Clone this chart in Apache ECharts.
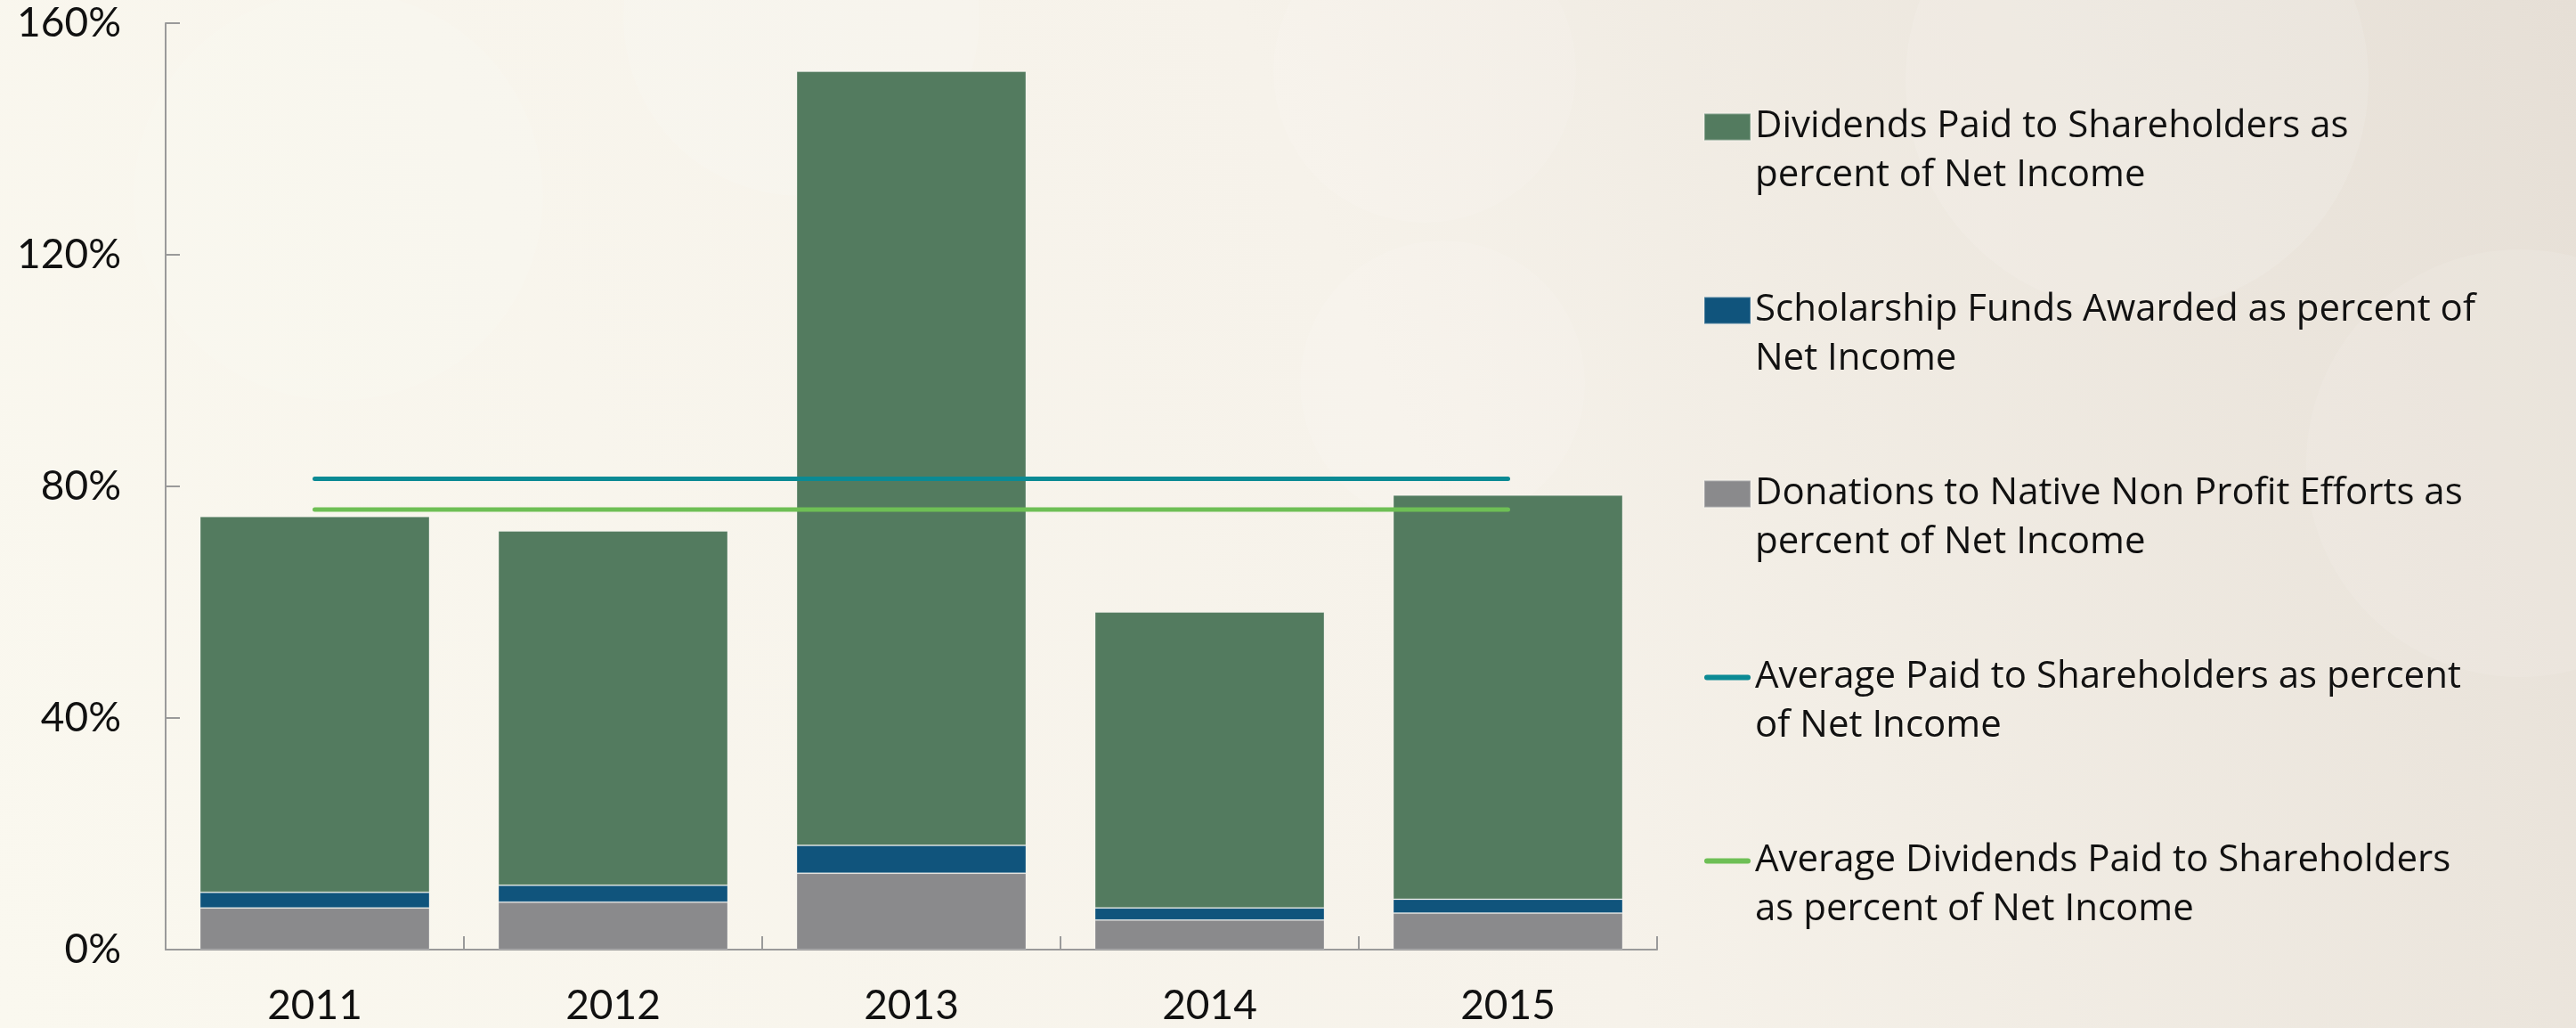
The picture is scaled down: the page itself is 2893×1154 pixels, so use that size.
<!DOCTYPE html>
<html>
<head>
<meta charset="utf-8">
<script src="https://cdn.jsdelivr.net/npm/echarts@6/dist/echarts.min.js"></script>
<style>
  html, body { margin: 0; padding: 0; }
  #chart { width: 2893px; height: 1154px; }
</style>
</head>
<body>
<div id="chart"></div>
<script>
  // data (percent of net income)
  const years = ['2011', '2012', '2013', '2014', '2015'];
  const donations = [7.2, 8.2, 13.2, 5.1, 6.3];
  const scholarship = [2.7, 2.9, 4.8, 2.1, 2.4];
  const dividends = [64.9, 61.2, 133.7, 51.1, 69.8];
  const avgPaid = [81.3, 81.3, 81.3, 81.3, 81.3];
  const avgDividends = [76.0, 76.0, 76.0, 76.0, 76.0];
  const yTicks = [0, 40, 80, 120, 160];

  const names = [
    'Dividends Paid to Shareholders as percent of Net Income',
    'Scholarship Funds Awarded as percent of Net Income',
    'Donations to Native Non Profit Efforts as percent of Net Income',
    'Average Paid to Shareholders as percent of Net Income',
    'Average Dividends Paid to Shareholders as percent of Net Income'
  ];
  // how the legend wraps each name
  const legendText = [
    'Dividends Paid to Shareholders as\npercent of Net Income',
    'Scholarship Funds Awarded as percent of\nNet Income',
    'Donations to Native Non Profit Efforts as\npercent of Net Income',
    'Average Paid to Shareholders as percent\nof Net Income',
    'Average Dividends Paid to Shareholders\nas percent of Net Income'
  ];

  const font = 'Lato, "Open Sans", sans-serif';
  const legendFont = '"Open Sans", Lato, sans-serif';
  const dash = 'path://M6,0 H98 A6,6 0 0 1 98,12 H6 A6,6 0 0 1 6,0 Z';

  const chart = echarts.init(document.getElementById('chart'));

  const option = {
    backgroundColor: {
      type: 'linear', x: 0, y: 1, x2: 1, y2: 0,
      colorStops: [
        { offset: 0, color: '#faf8ef' },
        { offset: 0.55, color: '#f6f2ea' },
        { offset: 1, color: '#e6dfd6' }
      ]
    },
    graphic: [
      { type: 'circle', shape: { cx: 2400, cy: 90, r: 260 }, style: { fill: 'rgba(255,255,255,0.12)' }, silent: true },
      { type: 'circle', shape: { cx: 2830, cy: 520, r: 240 }, style: { fill: 'rgba(255,255,255,0.1)' }, silent: true },
      { type: 'circle', shape: { cx: 1600, cy: 80, r: 170 }, style: { fill: 'rgba(255,255,255,0.1)' }, silent: true },
      { type: 'circle', shape: { cx: 1620, cy: 430, r: 160 }, style: { fill: 'rgba(255,255,255,0.1)' }, silent: true },
      { type: 'circle', shape: { cx: 900, cy: 20, r: 200 }, style: { fill: 'rgba(255,255,255,0.1)' }, silent: true },
      { type: 'circle', shape: { cx: 380, cy: 220, r: 230 }, style: { fill: 'rgba(255,255,255,0.1)' }, silent: true }
    ],
    animation: false,
    grid: { left: 186, right: 1032, top: 26, bottom: 88, containLabel: false },
    legend: {
      orient: 'vertical',
      left: 1913,
      top: 60,
      padding: 0,
      itemWidth: 52,
      itemHeight: 30,
      itemGap: 41,
      data: [
        { name: names[0], icon: 'rect' },
        { name: names[1], icon: 'rect' },
        { name: names[2], icon: 'rect' },
        { name: names[3], icon: dash },
        { name: names[4], icon: dash }
      ],
      // blank first line keeps the marker beside the first text line
      formatter: function (name) {
        return '\n' + legendText[names.indexOf(name)];
      },
      textStyle: { fontFamily: legendFont, fontSize: 42, lineHeight: 55, color: '#111' }
    },
    xAxis: {
      type: 'category',
      data: years,
      axisLine: { lineStyle: { color: '#9a9a9a', width: 2 } },
      axisTick: { show: true, inside: true, length: 15, lineStyle: { color: '#9a9a9a', width: 2 } },
      axisLabel: { fontFamily: font, fontSize: 46, color: '#111', margin: 40 }
    },
    yAxis: {
      type: 'value',
      min: yTicks[0],
      max: yTicks[yTicks.length - 1],
      interval: yTicks[1] - yTicks[0],
      splitLine: { show: false },
      axisLine: { show: true, lineStyle: { color: '#9a9a9a', width: 2 } },
      axisTick: { show: true, inside: true, length: 16, lineStyle: { color: '#9a9a9a', width: 2 } },
      axisLabel: { fontFamily: font, fontSize: 46, color: '#111', margin: 50, formatter: '{value}%' }
    },
    series: [
      {
        name: names[2], type: 'bar', stack: 'total', barWidth: '77%', data: donations,
        itemStyle: { color: '#8a8a8c', borderColor: 'rgba(255,255,255,0.25)', borderWidth: 1 }
      },
      {
        name: names[1], type: 'bar', stack: 'total', data: scholarship,
        itemStyle: { color: '#10547c', borderColor: 'rgba(255,255,255,0.25)', borderWidth: 1 }
      },
      {
        name: names[0], type: 'bar', stack: 'total', data: dividends,
        itemStyle: { color: '#537b5f', borderColor: 'rgba(255,255,255,0.3)', borderWidth: 1 }
      },
      {
        name: names[3], type: 'line', data: avgPaid, symbol: 'none', z: 5,
        lineStyle: { color: '#0b8a94', width: 5, cap: 'round' },
        itemStyle: { color: '#0b8a94' }
      },
      {
        name: names[4], type: 'line', data: avgDividends, symbol: 'none', z: 5,
        lineStyle: { color: '#6ebf55', width: 5, cap: 'round' },
        itemStyle: { color: '#6ebf55' }
      }
    ]
  };

  chart.setOption(option);
</script>
</body>
</html>
